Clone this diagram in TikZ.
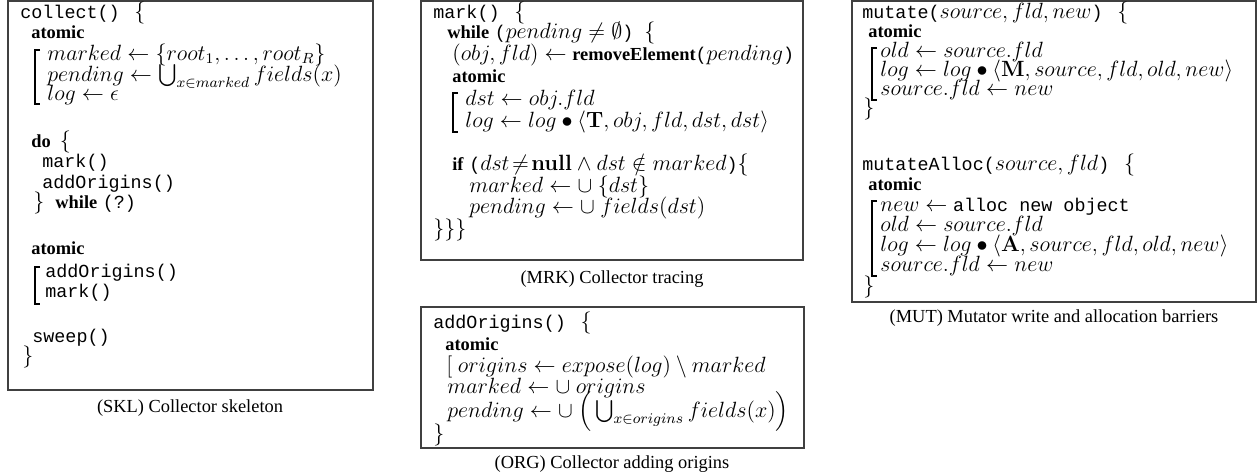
\documentclass[tikz,border=0pt]{standalone}
\usepackage[no-math]{fontspec}
\setmainfont{Liberation Serif}
\setmonofont{Liberation Mono}
\usepackage{amsmath, amssymb}
\usepackage{tikz}
\usetikzlibrary{positioning}
\newcommand{\kw}[1]{{\fontsize{10}{12}\selectfont\textbf{#1}}}
\newcommand{\cd}[1]{{\fontsize{10}{12}\selectfont\texttt{#1}}}
\newcommand{\opn}{\hspace{8pt}$\{$}
\tikzset{codebox/.style={draw=black!75,line width=0.8pt},codeline/.style={anchor=base west,inner sep=0pt,font=\fontsize{12}{14}\selectfont},caption/.style={anchor=base,inner sep=0pt,font=\fontsize{10}{12}\selectfont},bracket/.style={line width=0.55pt}}

\begin{document}
\begin{tikzpicture}[x=0.5435pt,y=-0.5435pt]

\useasboundingbox (0,0) rectangle (1260,475);

% The boxes
\draw[codebox] (8,1) rectangle (373,390);
\draw[codebox] (421,1) rectangle (803,260);
\draw[codebox] (421,307) rectangle (804,448);
\draw[codebox] (852,1) rectangle (1256,302);

% Captions
\node[caption] (skl-caption) at (190,412) {(SKL) Collector skeleton};
\node[caption] (mrk-caption) at (612,283) {(MRK) Collector tracing};
\node[caption] (org-caption) at (612,468) {(ORG) Collector adding origins};
\node[caption] (mut-caption) at (1054,322) {(MUT) Mutator write and allocation barriers};

% SKL
\node[codeline] (skl-head) at (20,18) {\cd{collect()}\opn};
\node[codeline] (skl-atomic) at (31,38) {\kw{atomic}};
\draw[bracket] (40,50) -- (35,50) -- (35,104) -- (40,104);
\node[codeline] (skl-marked) at (47,60) {$marked \leftarrow \{root_1, \ldots, root_R\}$};
\node[codeline] (skl-pending) at (47,81) {$pending \leftarrow \bigcup_{x \in marked} fields(x)$};
\node[codeline] (skl-log) at (47,100) {$log \leftarrow \epsilon$};
\node[codeline] (skl-do) at (31,147) {\kw{do}\hspace{5pt}$\{$};
\node[codeline] (skl-mark) at (42,167) {\cd{mark()}};
\node[codeline] (skl-origins) at (42,188) {\cd{addOrigins()}};
\node[codeline] (skl-while) at (33,208) {$\}$\hspace{6pt}\kw{while}~\cd{(?)}};
\node[codeline] (skl-atomic2) at (31,254) {\kw{atomic}};
\draw[bracket] (40,267) -- (35,267) -- (35,304) -- (40,304);
\node[codeline] (skl-origins2) at (45,277) {\cd{addOrigins()}};
\node[codeline] (skl-mark2) at (45,297) {\cd{mark()}};
\node[codeline] (skl-sweep) at (32,342) {\cd{sweep()}};
\node[codeline] (skl-end) at (22,362) {$\}$};

% MRK
\node[codeline] (mrk-head) at (433,18) {\cd{mark()}\opn};
\node[codeline] (mrk-while) at (447,38) {\kw{while}~\cd{(}$pending \neq \emptyset$\cd{)}\hspace{6pt}$\{$};
\node[codeline] (mrk-remove) at (452,60) {$(obj, fld) \leftarrow$~\kw{removeElement}\cd{(}$pending$\cd{)}};
\node[codeline] (mrk-atomic) at (452,82) {\kw{atomic}};
\draw[bracket] (458,93) -- (453,93) -- (453,132) -- (458,132);
\node[codeline] (mrk-dst) at (465,105) {$dst \leftarrow obj.fld$};
\node[codeline] (mrk-log) at (465,127) {$log \leftarrow log \bullet \langle \mathbf{T}, obj, fld, dst, dst \rangle$};
\node[codeline] (mrk-if) at (452,170) {\kw{if}~\cd{(}$dst\!\neq\!\mathbf{null} \wedge dst \notin marked$\cd{)}$\{$};
\node[codeline] (mrk-marked) at (469,192) {$marked \leftarrow \cup\ \{dst\}$};
\node[codeline] (mrk-pending) at (469,213) {$pending \leftarrow \cup\ fields(dst)$};
\node[codeline] (mrk-end) at (433,235) {$\}\}\}$};

% ORG
\node[codeline] (org-head) at (433,328) {\cd{addOrigins()}\opn};
\node[codeline] (org-atomic) at (445,350) {\kw{atomic}};
\node[codeline] (org-origins) at (446,372) {$[\ origins \leftarrow expose(log) \setminus marked$};
\node[codeline] (org-marked) at (447,393) {$marked \leftarrow \cup\ origins$};
\node[codeline] (org-pending) at (447,417) {$pending \leftarrow \cup\ \Big(\bigcup_{x \in origins} fields(x)\Big)$};
\node[codeline] (org-end) at (433,440) {$\}$};

% MUT
\node[codeline] (mut-head) at (862,18) {\cd{mutate(}$source, fld, new$\cd{)}\opn};
\node[codeline] (mut-atomic) at (868,37) {\kw{atomic}};
\draw[bracket] (877,48) -- (872,48) -- (872,100) -- (877,100);
\node[codeline] (mut-old) at (880,57) {$old \leftarrow source.fld$};
\node[codeline] (mut-log) at (880,76) {$log \leftarrow log \bullet \langle \mathbf{M}, source, fld, old, new \rangle$};
\node[codeline] (mut-store) at (880,95) {$source.fld \leftarrow new$};
\node[codeline] (mut-end) at (863,114) {$\}$};
\node[codeline] (alloc-head) at (862,170) {\cd{mutateAlloc(}$source, fld$\cd{)}\opn};
\node[codeline] (alloc-atomic) at (868,190) {\kw{atomic}};
\draw[bracket] (877,201) -- (872,201) -- (872,276) -- (877,276);
\node[codeline] (alloc-new) at (880,211) {$new \leftarrow$ \cd{alloc new object}};
\node[codeline] (alloc-old) at (880,231) {$old \leftarrow source.fld$};
\node[codeline] (alloc-log) at (880,251) {$log \leftarrow log \bullet \langle \mathbf{A}, source, fld, old, new \rangle$};
\node[codeline] (alloc-store) at (880,271) {$source.fld \leftarrow new$};
\node[codeline] (alloc-end) at (863,292) {$\}$};

\end{tikzpicture}
\end{document}
